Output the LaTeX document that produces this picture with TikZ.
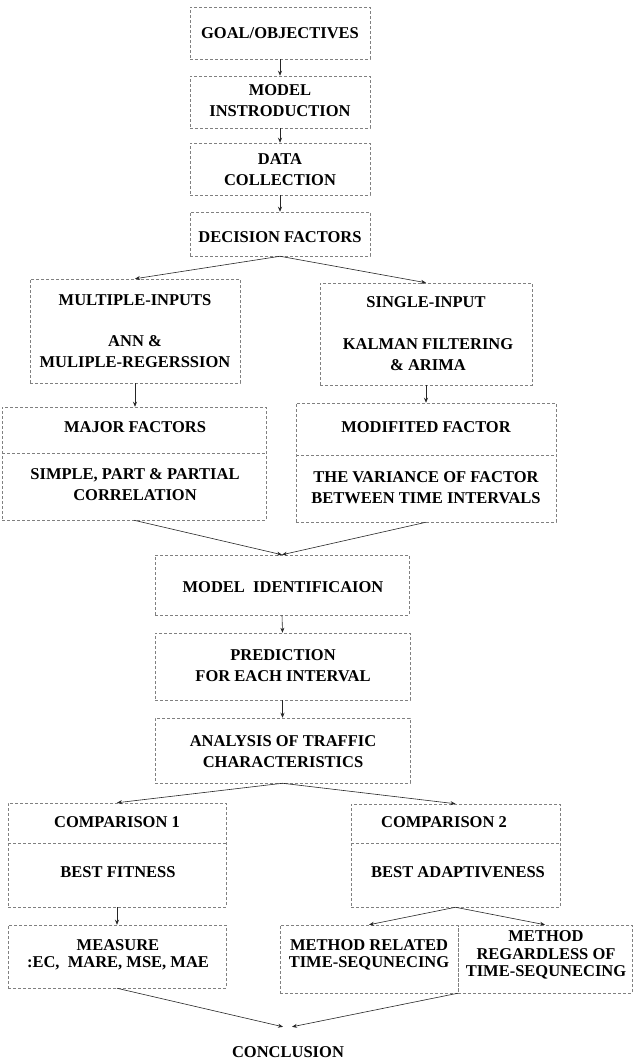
\documentclass[tikz,border=0pt]{standalone}
\usepackage{fontspec}
\setmainfont{Liberation Serif}
\usetikzlibrary{arrows.meta,fit}
\begin{document}
\begin{tikzpicture}[x=1pt,y=-1pt,
  box/.style={draw=black!50,line width=0.5pt,dash pattern=on 3pt off 2pt,inner sep=0pt,
    font=\fontsize{16.5}{21}\selectfont\bfseries,align=center},
  divline/.style={draw=black!50,line width=0.5pt,dash pattern=on 3pt off 2pt},
  txt/.style={inner sep=0pt,font=\fontsize{16.5}{21}\selectfont\bfseries,align=center},
  txts/.style={inner sep=0pt,font=\fontsize{16.5}{17.5}\selectfont\bfseries,align=center},
  arr/.style={-{Stealth[length=5pt,width=4pt]},line width=0.6pt,black!85}]
\useasboundingbox[fill=white] (0,0) rectangle (632,1062);
% top column
\node[box,fit={(190,7) (370,59)}] (goal) {};
\node[txt] (tgoal) at (280,33) {GOAL/OBJECTIVES};
\node[box,fit={(190,76) (370,128)}] (intro) {};
\node[txt] (tintro) at (280,101) {MODEL\\INSTRODUCTION};
\node[box,fit={(190,143) (370,195)}] (data) {};
\node[txt] (tdata) at (280,170) {DATA\\COLLECTION};
\node[box,fit={(190,212) (370,256)}] (dec) {};
\node[txt] (tdec) at (280,237) {DECISION FACTORS};
% branches
\node[box,fit={(30,279) (240,383)}] (mi) {};
\node[txt] (tmi1) at (135,300) {MULTIPLE-INPUTS};
\node[txt] (tmi2) at (135,352) {ANN \&\\MULIPLE-REGERSSION};
\node[box,fit={(320,283) (532,385)}] (si) {};
\node[txt] (tsi1) at (426,302) {SINGLE-INPUT};
\node[txt] (tsi2) at (428,355) {KALMAN FILTERING\\\& ARIMA};
\node[box,fit={(2,407) (266,520)}] (mf) {};
\draw[divline] (2,453) -- (266,453);
\node[txt] (tmf1) at (135,427) {MAJOR FACTORS};
\node[txt] (tmf2) at (135,485) {SIMPLE, PART \& PARTIAL\\CORRELATION};
\node[box,fit={(296,403) (556,522)}] (mod) {};
\draw[divline] (296,455) -- (556,455);
\node[txt] (tmod1) at (426,427) {MODIFITED FACTOR};
\node[txt] (tmod2) at (426,488) {THE VARIANCE OF FACTOR\\BETWEEN TIME INTERVALS};
% middle column
\node[box,fit={(155,555) (409,615)}] (mid) {};
\node[txt] (tmid) at (283,587) {MODEL~~IDENTIFICAION};
\node[box,fit={(155,633) (410,700)}] (pred) {};
\node[txt] (tpred) at (283,666) {PREDICTION\\FOR EACH INTERVAL};
\node[box,fit={(155,718) (410,783)}] (ana) {};
\node[txt] (tana) at (283,752) {ANALYSIS OF TRAFFIC\\CHARACTERISTICS};
% comparisons
\node[box,fit={(8,803) (226,907)}] (c1) {};
\draw[divline] (8,843) -- (226,843);
\node[txt] (tc1a) at (117,822) {COMPARISON 1};
\node[txt] (tc1b) at (118,872) {BEST FITNESS};
\node[box,fit={(351,804) (560,907)}] (c2) {};
\draw[divline] (351,843) -- (560,843);
\node[txt] (tc2a) at (444,822) {COMPARISON 2};
\node[txt] (tc2b) at (458,872) {BEST ADAPTIVENESS};
\node[box,fit={(8,925) (226,988)}] (meas) {};
\node[txts] (tmeas) at (118,955) {MEASURE\\:EC,~~MARE, MSE, MAE};
\node[box,fit={(280,925) (458,993)}] (mr) {};
\node[txts] (tmr) at (369,955) {METHOD RELATED\\TIME-SEQUNECING};
\node[box,fit={(458,925) (632,993)}] (mg) {};
\node[txts] (tmg) at (546,955) {METHOD\\REGARDLESS OF\\TIME-SEQUNECING};
\node[txt,minimum height=50pt] (conc) at (288,1052) {CONCLUSION};
% connectors
\draw[arr] (goal.south) -- (intro.north);
\draw[arr] (intro.south) -- (data.north);
\draw[arr] (data.south) -- (dec.north);
\draw[arr] (dec.south) -- (mi.north);
\draw[arr] (dec.south) -- (si.north);
\draw[arr] (mi.south) -- (mi.south |- mf.north);
\draw[arr] (si.south) -- (si.south |- mod.north);
\draw[arr] (mf.south) -- (mid.north);
\draw[arr] (mod.south) -- (mid.north);
\draw[arr] (mid.south) -- (pred.north);
\draw[arr] (pred.south) -- (ana.north);
\draw[arr] (ana.south) -- (c1.north);
\draw[arr] (ana.south) -- (c2.north);
\draw[arr] (c1.south) -- (meas.north);
\draw[arr] (c2.south) -- (mr.north);
\draw[arr] (c2.south) -- (mg.north);
\draw[arr] (meas.south) -- ([xshift=-5pt]conc.north);
\draw[arr] (mg.south west) -- ([xshift=4pt]conc.north);
\end{tikzpicture}
\end{document}
